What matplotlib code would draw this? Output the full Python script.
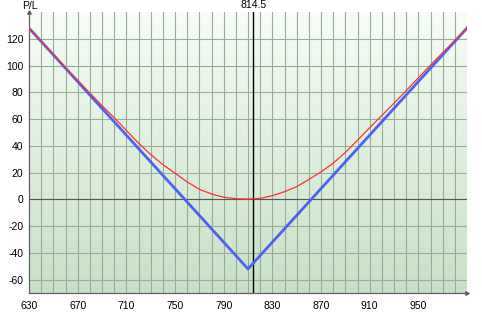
import matplotlib
matplotlib.use("Agg")
import matplotlib.pyplot as plt
import numpy as np

plt.rcParams['font.family'] = ['Liberation Sans', 'DejaVu Sans']
plt.rcParams['axes.unicode_minus'] = False

# expiration payoff (blue) - straight V
payoff_x = [630, 810, 990]
payoff_y = [128, -52, 128]

# current P/L curve (red), read every 10 points
price = [630, 640, 650, 660, 670, 680, 690, 700, 710, 720, 730, 740, 750,
         760, 770, 780, 790, 800, 810, 820, 830, 840, 850, 860, 870, 880,
         890, 900, 910, 920, 930, 940, 950, 960, 970, 980, 990]
pl_now = [128, 118, 108.2, 98.5, 89, 79.5, 70, 61, 51.5, 42, 33.5, 26, 19.5,
          13, 7.5, 4, 1.6, 0.5, 0.2, 0.7, 2.7, 5.7, 9.5, 14.8, 20.5, 27,
          35, 44.2, 53.5, 62.7, 71.8, 81.2, 90.8, 100.3, 109.6, 118.8, 128]

marker_price = 814.5
x_ticks = [630, 670, 710, 750, 790, 830, 870, 910, 950]
y_ticks = [-60, -40, -20, 0, 20, 40, 60, 80, 100, 120]

fig = plt.figure(figsize=(4.82, 3.16), dpi=100)
ax = fig.add_axes([29 / 482, 1 - 293 / 316, 438 / 482, 281 / 316])
ax.set_xlim(630, 990)
ax.set_ylim(-70, 140)

# background gradient, white-ish at top to light green at bottom
grad = np.linspace(0, 1, 256).reshape(-1, 1)
top = np.array([0.97, 0.99, 0.97])
bot = np.array([0.78, 0.88, 0.78])
img = top + (bot - top) * grad[..., None]
ax.imshow(img, extent=[0, 1, 0, 1], transform=ax.transAxes, aspect='auto',
          zorder=0)

for gx in range(640, 990, 10):
    ax.axvline(gx, color='#98ac98', lw=0.8, zorder=1)
for gy in y_ticks:
    ax.axhline(gy, color='#98ac98', lw=0.8, zorder=1)
ax.axhline(0, color='#505a50', lw=0.8, zorder=2)

ax.axvline(marker_price, color='black', lw=1, zorder=3)

ax.plot(payoff_x, payoff_y, color='#4a64f0', lw=2.0, zorder=4)
ax.plot(price, pl_now, color='#ff3030', lw=0.9, zorder=5)

ax.set_xticks(x_ticks)
ax.set_yticks(y_ticks)
ax.tick_params(length=0, labelsize=7.5, pad=6)
ax.tick_params(axis='y', pad=4)

for s in ['top', 'right']:
    ax.spines[s].set_visible(False)
for s in ['left', 'bottom']:
    ax.spines[s].set_color('#606060')
    ax.spines[s].set_linewidth(0.9)

# axis arrows
ax.plot(1, 0, '>', color='#606060', ms=2.5, transform=ax.transAxes, clip_on=False)
ax.plot(0, 1, '^', color='#606060', ms=2.5, transform=ax.transAxes, clip_on=False)

fig.text(30 / 482, 1 - 6 / 316, 'P/L', ha='center', va='center', fontsize=7.5)
ax.text(marker_price, 141.5, '814.5', ha='center', va='bottom', fontsize=7.5)

fig.savefig('out.png', dpi=100)
